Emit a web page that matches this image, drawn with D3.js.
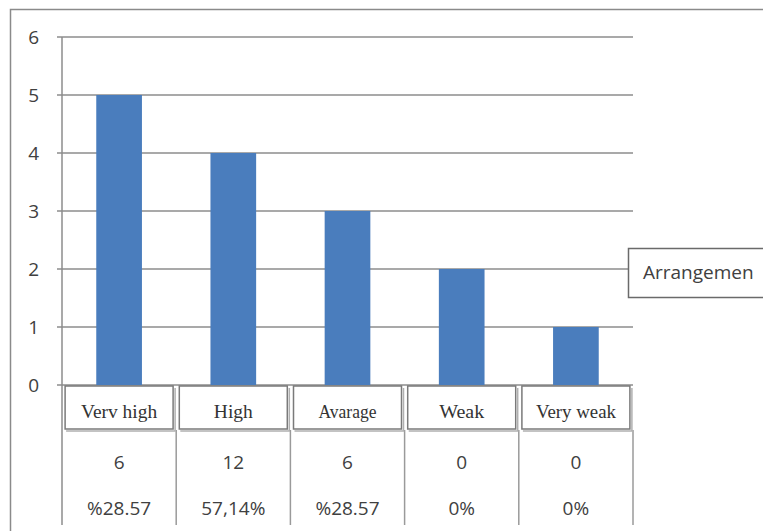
<!DOCTYPE html>
<html>
<head>
<meta charset="utf-8">
<script src="https://cdn.jsdelivr.net/npm/d3@7"></script>
<style>
  body { margin: 0; background: #fff; }
  svg { display: block; }
</style>
</head>
<body>
<div id="chart"></div>
<script>
// chart data
var categories = ["Verv high", "High", "Avarage", "Weak", "Very weak"];
var values = [5, 4, 3, 2, 1];
var counts = ["6", "12", "6", "0", "0"];
var percents = ["%28.57", "57,14%", "%28.57", "0%", "0%"];
var yTicks = [0, 1, 2, 3, 4, 5, 6];
var legendLabel = "Arrangemen";

var svgWidth = 763;
var svgHeight = 531;

var plot = { left: 62, right: 633, top: 37, bottom: 385 };

var svg = d3.select("#chart")
  .append("svg")
  .attr("width", svgWidth)
  .attr("height", svgHeight);

// outer chart border
svg.append("path")
  .attr("d", "M10.5,531 V9.5 H763")
  .attr("fill", "none")
  .attr("stroke", "#8a8a8a")
  .attr("stroke-width", 1.5);

var x = d3.scaleBand()
  .domain(categories)
  .range([plot.left, plot.right])
  .paddingInner(0.6)
  .paddingOuter(0.3);

var y = d3.scaleLinear()
  .domain([0, 6])
  .range([plot.bottom, plot.top]);

// gridlines
svg.append("g")
  .selectAll("line")
  .data(yTicks)
  .enter()
  .append("line")
  .attr("x1", plot.left - 5)
  .attr("x2", d => d === 2 ? 628 : plot.right)
  .attr("y1", d => y(d))
  .attr("y2", d => y(d))
  .attr("stroke", "#8c8c8c")
  .attr("stroke-width", 1.5);

// y axis labels
var leftAxis = d3.axisLeft(y)
  .tickValues(yTicks)
  .tickFormat(d3.format("d"))
  .tickSize(0)
  .tickPadding(23);
var yAxis = svg.append("g")
  .attr("transform", `translate(${plot.left}, 0)`)
  .call(leftAxis);
yAxis.select(".domain").remove();
yAxis.selectAll("text")
  .attr("font-family", "'Open Sans', 'DejaVu Sans', sans-serif")
  .attr("font-size", "19px")
  .attr("fill", "#404040");

// bars
svg.append("g")
  .selectAll("rect")
  .data(values)
  .enter()
  .append("rect")
  .attr("x", (d, i) => x(categories[i]))
  .attr("y", d => y(d))
  .attr("width", x.bandwidth())
  .attr("height", d => y(0) - y(d))
  .attr("fill", "#4a7dbd");

// vertical axis line through the table
svg.append("line")
  .attr("x1", plot.left).attr("x2", plot.left)
  .attr("y1", plot.top).attr("y2", 525)
  .attr("stroke", "#8c8c8c")
  .attr("stroke-width", 1.5);

// table column dividers
var step = x.step();
var edges = categories.map((c, i) => x(c) - step * x.paddingInner() / 2 + step);
svg.append("g")
  .selectAll("line")
  .data(edges)
  .enter()
  .append("line")
  .attr("x1", d => d).attr("x2", d => d)
  .attr("y1", 430).attr("y2", 525)
  .attr("stroke", "#9a9a9a")
  .attr("stroke-width", 1.5);

// category label boxes
var labelWidths = [76, 39, 58, 45, 80];
var cells = svg.append("g")
  .selectAll("g")
  .data(categories)
  .enter()
  .append("g")
  .attr("transform", d => `translate(${x(d) + x.bandwidth() / 2}, 0)`);

cells.append("rect")
  .attr("x", -54)
  .attr("y", 386)
  .attr("width", 108)
  .attr("height", 43)
  .attr("fill", "#fff")
  .attr("stroke", "#7a7a7a")
  .attr("stroke-width", 1.5);

cells.append("path")
  .attr("d", "M-53,431 H56 V388")
  .attr("fill", "none")
  .attr("stroke", "#b0b0b0")
  .attr("stroke-width", 1.5);

cells.append("text")
  .attr("y", 418)
  .attr("text-anchor", "middle")
  .attr("font-family", "'Liberation Serif', 'DejaVu Serif', serif")
  .attr("font-size", "18px")
  .attr("textLength", (d, i) => labelWidths[i])
  .attr("lengthAdjust", "spacingAndGlyphs")
  .attr("fill", "#333")
  .text(d => d);

cells.append("text")
  .attr("y", 469)
  .attr("text-anchor", "middle")
  .attr("font-family", "'Open Sans', 'DejaVu Sans', sans-serif")
  .attr("font-size", "19px")
  .attr("fill", "#404040")
  .text((d, i) => counts[i]);

cells.append("text")
  .attr("y", 515)
  .attr("text-anchor", "middle")
  .attr("font-family", "'Open Sans', 'DejaVu Sans', sans-serif")
  .attr("font-size", "19px")
  .attr("fill", "#404040")
  .text((d, i) => percents[i]);

// legend box
svg.append("rect")
  .attr("x", 628.5)
  .attr("y", 248.5)
  .attr("width", 150)
  .attr("height", 49)
  .attr("fill", "#fff")
  .attr("stroke", "#6a6a6a")
  .attr("stroke-width", 1.5);

svg.append("text")
  .attr("x", 643)
  .attr("y", 279)
  .attr("font-family", "'Open Sans', 'DejaVu Sans', sans-serif")
  .attr("font-size", "19px")
  .attr("fill", "#404040")
  .text(legendLabel);
</script>
</body>
</html>
